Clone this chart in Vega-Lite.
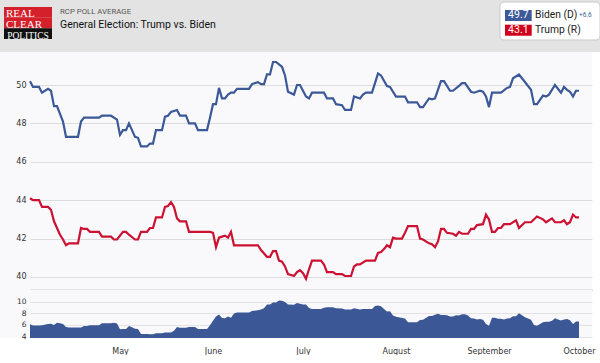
{
  "$schema": "https://vega.github.io/schema/vega-lite/v6.json",
  "background": "white",
  "padding": 0,
  "spacing": 0,
  "config": {"view": {"stroke": null}, "concat": {"spacing": 0}, "axis": {"labelFont": "DejaVu Sans", "gridWidth": 1}},
  "datasets": {
    "polls": [
      {"date":"2020-04-01","candidate":"Biden","pct":50.2},{"date":"2020-04-02","candidate":"Biden","pct":49.9},{"date":"2020-04-04","candidate":"Biden","pct":49.9},{"date":"2020-04-05","candidate":"Biden","pct":49.6},{"date":"2020-04-07","candidate":"Biden","pct":49.8},{"date":"2020-04-08","candidate":"Biden","pct":49.7},{"date":"2020-04-09","candidate":"Biden","pct":48.9},{"date":"2020-04-10","candidate":"Biden","pct":48.9},{"date":"2020-04-12","candidate":"Biden","pct":48.1},{"date":"2020-04-13","candidate":"Biden","pct":47.3},{"date":"2020-04-17","candidate":"Biden","pct":47.3},{"date":"2020-04-18","candidate":"Biden","pct":48.1},{"date":"2020-04-19","candidate":"Biden","pct":48.3},{"date":"2020-04-24","candidate":"Biden","pct":48.3},{"date":"2020-04-25","candidate":"Biden","pct":48.4},{"date":"2020-04-28","candidate":"Biden","pct":48.4},{"date":"2020-04-30","candidate":"Biden","pct":48.2},
      {"date":"2020-05-01","candidate":"Biden","pct":47.4},{"date":"2020-05-02","candidate":"Biden","pct":47.65},{"date":"2020-05-03","candidate":"Biden","pct":47.65},{"date":"2020-05-04","candidate":"Biden","pct":48.0},{"date":"2020-05-06","candidate":"Biden","pct":47.3},{"date":"2020-05-07","candidate":"Biden","pct":47.25},{"date":"2020-05-08","candidate":"Biden","pct":46.8},{"date":"2020-05-10","candidate":"Biden","pct":46.8},{"date":"2020-05-11","candidate":"Biden","pct":46.95},{"date":"2020-05-12","candidate":"Biden","pct":46.95},{"date":"2020-05-13","candidate":"Biden","pct":47.65},{"date":"2020-05-15","candidate":"Biden","pct":47.65},{"date":"2020-05-16","candidate":"Biden","pct":48.35},{"date":"2020-05-17","candidate":"Biden","pct":48.4},{"date":"2020-05-18","candidate":"Biden","pct":48.6},{"date":"2020-05-20","candidate":"Biden","pct":48.7},{"date":"2020-05-21","candidate":"Biden","pct":48.4},{"date":"2020-05-23","candidate":"Biden","pct":48.4},{"date":"2020-05-24","candidate":"Biden","pct":48.0},{"date":"2020-05-26","candidate":"Biden","pct":48.0},{"date":"2020-05-27","candidate":"Biden","pct":47.65},{"date":"2020-05-30","candidate":"Biden","pct":47.65},{"date":"2020-05-31","candidate":"Biden","pct":48.3},
      {"date":"2020-06-01","candidate":"Biden","pct":49.0},{"date":"2020-06-02","candidate":"Biden","pct":49.0},{"date":"2020-06-03","candidate":"Biden","pct":49.85},{"date":"2020-06-04","candidate":"Biden","pct":49.3},{"date":"2020-06-05","candidate":"Biden","pct":49.3},{"date":"2020-06-06","candidate":"Biden","pct":49.5},{"date":"2020-06-07","candidate":"Biden","pct":49.6},{"date":"2020-06-08","candidate":"Biden","pct":49.6},{"date":"2020-06-09","candidate":"Biden","pct":49.8},{"date":"2020-06-13","candidate":"Biden","pct":49.8},{"date":"2020-06-14","candidate":"Biden","pct":50.05},{"date":"2020-06-16","candidate":"Biden","pct":50.15},{"date":"2020-06-17","candidate":"Biden","pct":50.05},{"date":"2020-06-18","candidate":"Biden","pct":50.05},{"date":"2020-06-19","candidate":"Biden","pct":50.55},{"date":"2020-06-20","candidate":"Biden","pct":50.55},{"date":"2020-06-21","candidate":"Biden","pct":51.2},{"date":"2020-06-22","candidate":"Biden","pct":51.2},{"date":"2020-06-24","candidate":"Biden","pct":50.95},{"date":"2020-06-25","candidate":"Biden","pct":50.5},{"date":"2020-06-26","candidate":"Biden","pct":49.65},{"date":"2020-06-28","candidate":"Biden","pct":49.5},{"date":"2020-06-29","candidate":"Biden","pct":50.0},{"date":"2020-06-30","candidate":"Biden","pct":50.0},
      {"date":"2020-07-02","candidate":"Biden","pct":49.4},{"date":"2020-07-03","candidate":"Biden","pct":49.3},{"date":"2020-07-04","candidate":"Biden","pct":49.6},{"date":"2020-07-08","candidate":"Biden","pct":49.6},{"date":"2020-07-09","candidate":"Biden","pct":49.3},{"date":"2020-07-11","candidate":"Biden","pct":49.3},{"date":"2020-07-12","candidate":"Biden","pct":49.0},{"date":"2020-07-14","candidate":"Biden","pct":48.95},{"date":"2020-07-15","candidate":"Biden","pct":48.7},{"date":"2020-07-17","candidate":"Biden","pct":48.7},{"date":"2020-07-18","candidate":"Biden","pct":49.4},{"date":"2020-07-20","candidate":"Biden","pct":49.3},{"date":"2020-07-21","candidate":"Biden","pct":49.5},{"date":"2020-07-22","candidate":"Biden","pct":49.6},{"date":"2020-07-24","candidate":"Biden","pct":49.6},{"date":"2020-07-25","candidate":"Biden","pct":50.1},{"date":"2020-07-26","candidate":"Biden","pct":50.6},{"date":"2020-07-27","candidate":"Biden","pct":50.5},{"date":"2020-07-29","candidate":"Biden","pct":49.95},{"date":"2020-07-30","candidate":"Biden","pct":49.9},
      {"date":"2020-08-01","candidate":"Biden","pct":49.4},{"date":"2020-08-04","candidate":"Biden","pct":49.4},{"date":"2020-08-05","candidate":"Biden","pct":49.1},{"date":"2020-08-08","candidate":"Biden","pct":49.1},{"date":"2020-08-09","candidate":"Biden","pct":48.85},{"date":"2020-08-10","candidate":"Biden","pct":48.85},{"date":"2020-08-12","candidate":"Biden","pct":49.3},{"date":"2020-08-13","candidate":"Biden","pct":49.25},{"date":"2020-08-14","candidate":"Biden","pct":49.3},{"date":"2020-08-16","candidate":"Biden","pct":50.2},{"date":"2020-08-17","candidate":"Biden","pct":50.2},{"date":"2020-08-19","candidate":"Biden","pct":49.7},{"date":"2020-08-20","candidate":"Biden","pct":49.7},{"date":"2020-08-22","candidate":"Biden","pct":49.95},{"date":"2020-08-23","candidate":"Biden","pct":50.1},{"date":"2020-08-24","candidate":"Biden","pct":50.1},{"date":"2020-08-26","candidate":"Biden","pct":49.65},{"date":"2020-08-27","candidate":"Biden","pct":49.6},{"date":"2020-08-29","candidate":"Biden","pct":49.7},{"date":"2020-08-30","candidate":"Biden","pct":49.65},{"date":"2020-08-31","candidate":"Biden","pct":49.4},
      {"date":"2020-09-01","candidate":"Biden","pct":48.85},{"date":"2020-09-02","candidate":"Biden","pct":49.6},{"date":"2020-09-05","candidate":"Biden","pct":49.6},{"date":"2020-09-07","candidate":"Biden","pct":49.85},{"date":"2020-09-08","candidate":"Biden","pct":49.9},{"date":"2020-09-09","candidate":"Biden","pct":50.35},{"date":"2020-09-11","candidate":"Biden","pct":50.55},{"date":"2020-09-12","candidate":"Biden","pct":50.35},{"date":"2020-09-15","candidate":"Biden","pct":49.75},{"date":"2020-09-16","candidate":"Biden","pct":49.0},{"date":"2020-09-17","candidate":"Biden","pct":49.0},{"date":"2020-09-19","candidate":"Biden","pct":49.45},{"date":"2020-09-20","candidate":"Biden","pct":49.4},{"date":"2020-09-21","candidate":"Biden","pct":49.5},{"date":"2020-09-23","candidate":"Biden","pct":50.0},{"date":"2020-09-25","candidate":"Biden","pct":49.6},{"date":"2020-09-26","candidate":"Biden","pct":49.9},{"date":"2020-09-27","candidate":"Biden","pct":49.75},{"date":"2020-09-28","candidate":"Biden","pct":49.65},{"date":"2020-09-29","candidate":"Biden","pct":49.4},{"date":"2020-09-30","candidate":"Biden","pct":49.7},{"date":"2020-10-01","candidate":"Biden","pct":49.7},
      {"date":"2020-04-01","candidate":"Trump","pct":44.1},{"date":"2020-04-02","candidate":"Trump","pct":44.0},{"date":"2020-04-04","candidate":"Trump","pct":44.0},{"date":"2020-04-05","candidate":"Trump","pct":43.65},{"date":"2020-04-07","candidate":"Trump","pct":43.65},{"date":"2020-04-08","candidate":"Trump","pct":43.5},{"date":"2020-04-09","candidate":"Trump","pct":42.9},{"date":"2020-04-11","candidate":"Trump","pct":42.2},{"date":"2020-04-12","candidate":"Trump","pct":41.95},{"date":"2020-04-13","candidate":"Trump","pct":41.65},{"date":"2020-04-14","candidate":"Trump","pct":41.75},{"date":"2020-04-17","candidate":"Trump","pct":41.75},{"date":"2020-04-18","candidate":"Trump","pct":42.55},{"date":"2020-04-19","candidate":"Trump","pct":42.5},{"date":"2020-04-20","candidate":"Trump","pct":42.5},{"date":"2020-04-21","candidate":"Trump","pct":42.35},{"date":"2020-04-24","candidate":"Trump","pct":42.35},{"date":"2020-04-25","candidate":"Trump","pct":42.1},{"date":"2020-04-28","candidate":"Trump","pct":42.1},{"date":"2020-04-29","candidate":"Trump","pct":41.95},{"date":"2020-04-30","candidate":"Trump","pct":41.95},
      {"date":"2020-05-02","candidate":"Trump","pct":42.35},{"date":"2020-05-03","candidate":"Trump","pct":42.35},{"date":"2020-05-04","candidate":"Trump","pct":42.2},{"date":"2020-05-06","candidate":"Trump","pct":41.95},{"date":"2020-05-07","candidate":"Trump","pct":41.95},{"date":"2020-05-08","candidate":"Trump","pct":42.35},{"date":"2020-05-10","candidate":"Trump","pct":42.35},{"date":"2020-05-11","candidate":"Trump","pct":42.55},{"date":"2020-05-12","candidate":"Trump","pct":42.55},{"date":"2020-05-13","candidate":"Trump","pct":43.1},{"date":"2020-05-15","candidate":"Trump","pct":43.1},{"date":"2020-05-16","candidate":"Trump","pct":43.65},{"date":"2020-05-17","candidate":"Trump","pct":43.7},{"date":"2020-05-18","candidate":"Trump","pct":43.9},{"date":"2020-05-19","candidate":"Trump","pct":43.65},{"date":"2020-05-20","candidate":"Trump","pct":43.05},{"date":"2020-05-21","candidate":"Trump","pct":42.9},{"date":"2020-05-23","candidate":"Trump","pct":42.9},{"date":"2020-05-24","candidate":"Trump","pct":42.35},{"date":"2020-05-31","candidate":"Trump","pct":42.35},
      {"date":"2020-06-01","candidate":"Trump","pct":42.3},{"date":"2020-06-02","candidate":"Trump","pct":41.55},{"date":"2020-06-03","candidate":"Trump","pct":42.05},{"date":"2020-06-04","candidate":"Trump","pct":42.1},{"date":"2020-06-05","candidate":"Trump","pct":42.15},{"date":"2020-06-06","candidate":"Trump","pct":42.05},{"date":"2020-06-07","candidate":"Trump","pct":42.35},{"date":"2020-06-08","candidate":"Trump","pct":41.65},{"date":"2020-06-16","candidate":"Trump","pct":41.65},{"date":"2020-06-17","candidate":"Trump","pct":41.4},{"date":"2020-06-19","candidate":"Trump","pct":41.05},{"date":"2020-06-20","candidate":"Trump","pct":41.05},{"date":"2020-06-21","candidate":"Trump","pct":41.35},{"date":"2020-06-22","candidate":"Trump","pct":41.35},{"date":"2020-06-23","candidate":"Trump","pct":40.85},{"date":"2020-06-24","candidate":"Trump","pct":40.8},{"date":"2020-06-25","candidate":"Trump","pct":40.55},{"date":"2020-06-26","candidate":"Trump","pct":40.15},{"date":"2020-06-27","candidate":"Trump","pct":40.1},{"date":"2020-06-28","candidate":"Trump","pct":40.05},{"date":"2020-06-29","candidate":"Trump","pct":40.25},{"date":"2020-06-30","candidate":"Trump","pct":40.35},
      {"date":"2020-07-01","candidate":"Trump","pct":40.2},{"date":"2020-07-02","candidate":"Trump","pct":39.9},{"date":"2020-07-03","candidate":"Trump","pct":40.4},{"date":"2020-07-04","candidate":"Trump","pct":40.85},{"date":"2020-07-07","candidate":"Trump","pct":40.85},{"date":"2020-07-08","candidate":"Trump","pct":40.65},{"date":"2020-07-09","candidate":"Trump","pct":40.25},{"date":"2020-07-11","candidate":"Trump","pct":40.25},{"date":"2020-07-12","candidate":"Trump","pct":40.15},{"date":"2020-07-14","candidate":"Trump","pct":40.15},{"date":"2020-07-15","candidate":"Trump","pct":40.05},{"date":"2020-07-17","candidate":"Trump","pct":40.05},{"date":"2020-07-18","candidate":"Trump","pct":40.55},{"date":"2020-07-19","candidate":"Trump","pct":40.65},{"date":"2020-07-20","candidate":"Trump","pct":40.65},{"date":"2020-07-22","candidate":"Trump","pct":40.85},{"date":"2020-07-25","candidate":"Trump","pct":40.85},{"date":"2020-07-26","candidate":"Trump","pct":41.25},{"date":"2020-07-27","candidate":"Trump","pct":41.3},{"date":"2020-07-28","candidate":"Trump","pct":41.45},{"date":"2020-07-29","candidate":"Trump","pct":41.65},{"date":"2020-07-30","candidate":"Trump","pct":41.55},{"date":"2020-07-31","candidate":"Trump","pct":42.05},
      {"date":"2020-08-01","candidate":"Trump","pct":42.0},{"date":"2020-08-03","candidate":"Trump","pct":42.0},{"date":"2020-08-04","candidate":"Trump","pct":42.3},{"date":"2020-08-05","candidate":"Trump","pct":42.65},{"date":"2020-08-08","candidate":"Trump","pct":42.65},{"date":"2020-08-09","candidate":"Trump","pct":42.0},{"date":"2020-08-10","candidate":"Trump","pct":41.95},{"date":"2020-08-12","candidate":"Trump","pct":41.75},{"date":"2020-08-13","candidate":"Trump","pct":41.7},{"date":"2020-08-14","candidate":"Trump","pct":41.55},{"date":"2020-08-15","candidate":"Trump","pct":41.85},{"date":"2020-08-16","candidate":"Trump","pct":42.5},{"date":"2020-08-17","candidate":"Trump","pct":42.5},{"date":"2020-08-18","candidate":"Trump","pct":42.3},{"date":"2020-08-20","candidate":"Trump","pct":42.25},{"date":"2020-08-21","candidate":"Trump","pct":42.15},{"date":"2020-08-22","candidate":"Trump","pct":42.35},{"date":"2020-08-23","candidate":"Trump","pct":42.25},{"date":"2020-08-25","candidate":"Trump","pct":42.25},{"date":"2020-08-26","candidate":"Trump","pct":42.5},{"date":"2020-08-27","candidate":"Trump","pct":42.5},{"date":"2020-08-28","candidate":"Trump","pct":42.7},{"date":"2020-08-30","candidate":"Trump","pct":42.75},{"date":"2020-08-31","candidate":"Trump","pct":43.25},
      {"date":"2020-09-01","candidate":"Trump","pct":43.0},{"date":"2020-09-02","candidate":"Trump","pct":42.35},{"date":"2020-09-03","candidate":"Trump","pct":42.35},{"date":"2020-09-04","candidate":"Trump","pct":42.55},{"date":"2020-09-05","candidate":"Trump","pct":42.55},{"date":"2020-09-06","candidate":"Trump","pct":42.75},{"date":"2020-09-08","candidate":"Trump","pct":42.75},{"date":"2020-09-10","candidate":"Trump","pct":42.95},{"date":"2020-09-11","candidate":"Trump","pct":42.55},{"date":"2020-09-13","candidate":"Trump","pct":42.85},{"date":"2020-09-15","candidate":"Trump","pct":42.85},{"date":"2020-09-17","candidate":"Trump","pct":43.15},{"date":"2020-09-19","candidate":"Trump","pct":43.0},{"date":"2020-09-20","candidate":"Trump","pct":42.85},{"date":"2020-09-22","candidate":"Trump","pct":43.05},{"date":"2020-09-23","candidate":"Trump","pct":42.85},{"date":"2020-09-25","candidate":"Trump","pct":42.85},{"date":"2020-09-26","candidate":"Trump","pct":42.95},{"date":"2020-09-27","candidate":"Trump","pct":42.75},{"date":"2020-09-28","candidate":"Trump","pct":42.85},{"date":"2020-09-29","candidate":"Trump","pct":43.25},{"date":"2020-09-30","candidate":"Trump","pct":43.1},{"date":"2020-10-01","candidate":"Trump","pct":43.1}
    ],
    "spread": [
      {"date":"2020-04-01","spread":6.1},{"date":"2020-04-02","spread":5.9},{"date":"2020-04-04","spread":5.9},{"date":"2020-04-05","spread":5.95},{"date":"2020-04-07","spread":6.15},{"date":"2020-04-08","spread":6.2},{"date":"2020-04-09","spread":6.0},{"date":"2020-04-10","spread":6.35},{"date":"2020-04-11","spread":6.3},{"date":"2020-04-12","spread":6.15},{"date":"2020-04-13","spread":5.65},{"date":"2020-04-14","spread":5.55},{"date":"2020-04-17","spread":5.55},{"date":"2020-04-18","spread":5.55},{"date":"2020-04-19","spread":5.8},{"date":"2020-04-20","spread":5.8},{"date":"2020-04-21","spread":5.95},{"date":"2020-04-24","spread":5.95},{"date":"2020-04-25","spread":6.3},{"date":"2020-04-28","spread":6.3},{"date":"2020-04-29","spread":6.35},{"date":"2020-04-30","spread":6.25},
      {"date":"2020-05-01","spread":5.25},{"date":"2020-05-02","spread":5.3},{"date":"2020-05-03","spread":5.3},{"date":"2020-05-04","spread":5.8},{"date":"2020-05-05","spread":5.6},{"date":"2020-05-06","spread":5.35},{"date":"2020-05-07","spread":5.3},{"date":"2020-05-08","spread":4.45},{"date":"2020-05-10","spread":4.45},{"date":"2020-05-11","spread":4.4},{"date":"2020-05-12","spread":4.4},{"date":"2020-05-13","spread":4.55},{"date":"2020-05-15","spread":4.55},{"date":"2020-05-16","spread":4.7},{"date":"2020-05-18","spread":4.7},{"date":"2020-05-19","spread":5.0},{"date":"2020-05-20","spread":5.65},{"date":"2020-05-21","spread":5.5},{"date":"2020-05-23","spread":5.5},{"date":"2020-05-24","spread":5.65},{"date":"2020-05-26","spread":5.65},{"date":"2020-05-27","spread":5.3},{"date":"2020-05-30","spread":5.3},{"date":"2020-05-31","spread":5.95},
      {"date":"2020-06-01","spread":6.7},{"date":"2020-06-02","spread":7.45},{"date":"2020-06-03","spread":7.8},{"date":"2020-06-04","spread":7.2},{"date":"2020-06-05","spread":7.15},{"date":"2020-06-06","spread":7.45},{"date":"2020-06-07","spread":7.25},{"date":"2020-06-08","spread":7.95},{"date":"2020-06-09","spread":8.15},{"date":"2020-06-13","spread":8.15},{"date":"2020-06-14","spread":8.4},{"date":"2020-06-16","spread":8.5},{"date":"2020-06-17","spread":8.65},{"date":"2020-06-18","spread":8.85},{"date":"2020-06-19","spread":9.5},{"date":"2020-06-20","spread":9.5},{"date":"2020-06-21","spread":9.85},{"date":"2020-06-22","spread":9.85},{"date":"2020-06-23","spread":10.2},{"date":"2020-06-24","spread":10.15},{"date":"2020-06-25","spread":9.95},{"date":"2020-06-26","spread":9.5},{"date":"2020-06-28","spread":9.45},{"date":"2020-06-29","spread":9.75},{"date":"2020-06-30","spread":9.65},
      {"date":"2020-07-01","spread":9.5},{"date":"2020-07-02","spread":9.5},{"date":"2020-07-03","spread":8.9},{"date":"2020-07-04","spread":8.75},{"date":"2020-07-07","spread":8.75},{"date":"2020-07-08","spread":8.95},{"date":"2020-07-09","spread":9.05},{"date":"2020-07-11","spread":9.05},{"date":"2020-07-12","spread":8.85},{"date":"2020-07-14","spread":8.8},{"date":"2020-07-15","spread":8.65},{"date":"2020-07-17","spread":8.65},{"date":"2020-07-18","spread":8.85},{"date":"2020-07-20","spread":8.65},{"date":"2020-07-21","spread":8.75},{"date":"2020-07-24","spread":8.75},{"date":"2020-07-25","spread":9.25},{"date":"2020-07-26","spread":9.35},{"date":"2020-07-27","spread":9.2},{"date":"2020-07-28","spread":8.75},{"date":"2020-07-29","spread":8.3},{"date":"2020-07-30","spread":8.35},{"date":"2020-07-31","spread":7.6},
      {"date":"2020-08-01","spread":7.4},{"date":"2020-08-04","spread":7.1},{"date":"2020-08-05","spread":6.45},{"date":"2020-08-08","spread":6.45},{"date":"2020-08-09","spread":6.85},{"date":"2020-08-10","spread":6.9},{"date":"2020-08-12","spread":7.55},{"date":"2020-08-13","spread":7.55},{"date":"2020-08-14","spread":7.75},{"date":"2020-08-15","spread":7.9},{"date":"2020-08-16","spread":7.7},{"date":"2020-08-17","spread":7.7},{"date":"2020-08-18","spread":7.65},{"date":"2020-08-19","spread":7.45},{"date":"2020-08-20","spread":7.45},{"date":"2020-08-21","spread":7.65},{"date":"2020-08-22","spread":7.6},{"date":"2020-08-23","spread":7.85},{"date":"2020-08-24","spread":7.85},{"date":"2020-08-25","spread":7.6},{"date":"2020-08-26","spread":7.15},{"date":"2020-08-27","spread":7.1},{"date":"2020-08-28","spread":6.95},{"date":"2020-08-29","spread":7.0},{"date":"2020-08-30","spread":6.9},{"date":"2020-08-31","spread":6.15},
      {"date":"2020-09-01","spread":5.85},{"date":"2020-09-02","spread":7.25},{"date":"2020-09-03","spread":7.25},{"date":"2020-09-04","spread":7.05},{"date":"2020-09-05","spread":7.05},{"date":"2020-09-06","spread":6.95},{"date":"2020-09-07","spread":7.1},{"date":"2020-09-08","spread":7.15},{"date":"2020-09-09","spread":7.5},{"date":"2020-09-10","spread":7.5},{"date":"2020-09-11","spread":8.0},{"date":"2020-09-12","spread":7.65},{"date":"2020-09-13","spread":7.3},{"date":"2020-09-15","spread":6.9},{"date":"2020-09-16","spread":6.0},{"date":"2020-09-17","spread":5.85},{"date":"2020-09-18","spread":6.15},{"date":"2020-09-19","spread":6.45},{"date":"2020-09-20","spread":6.55},{"date":"2020-09-21","spread":6.55},{"date":"2020-09-22","spread":6.7},{"date":"2020-09-23","spread":7.15},{"date":"2020-09-24","spread":6.95},{"date":"2020-09-25","spread":6.75},{"date":"2020-09-26","spread":6.95},{"date":"2020-09-27","spread":7.0},{"date":"2020-09-28","spread":6.8},{"date":"2020-09-29","spread":6.15},{"date":"2020-09-30","spread":6.6},{"date":"2020-10-01","spread":6.6}
    ]
  },
  "vconcat": [
    {
      "spacing": 0,
      "hconcat": [
        {
          "width": 56, "height": 52,
          "view": {"fill": "#e3e3e3", "stroke": null},
          "data": {"values": [{"word": "REAL", "part": "red"}, {"word": "CLEAR", "part": "red"}, {"word": "POLITICS", "part": "black"}]},
          "encoding": {
            "y": {"field": "word", "type": "nominal", "sort": null, "scale": {"type": "band", "domain": ["REAL", "CLEAR", "POLITICS"], "paddingInner": 0, "paddingOuter": 0.93, "align": 0.35}, "axis": null}
          },
          "layer": [
            {"transform": [{"filter": "datum.part == 'red'"}], "mark": {"type": "rect", "fill": "#d3202a"}, "encoding": {"x": {"datum": "logo", "type": "nominal", "scale": {"type": "band", "paddingOuter": 0.0833, "paddingInner": 0}, "axis": null}}},
            {"transform": [{"filter": "datum.part == 'black'"}], "mark": {"type": "rect", "fill": "#111111"}, "encoding": {"x": {"datum": "logo", "type": "nominal"}}},
            {"transform": [{"filter": "datum.part == 'red'"}], "mark": {"type": "text", "font": "Liberation Serif", "fontSize": 11, "fill": "white", "align": "left", "dx": 2, "dy": 2}, "encoding": {"x": {"datum": "logo", "type": "nominal", "bandPosition": 0}, "text": {"field": "word"}}},
            {"transform": [{"filter": "datum.part == 'black'"}], "mark": {"type": "text", "font": "Liberation Serif", "fontSize": 9.5, "fill": "white", "align": "center", "dy": 2.3}, "encoding": {"x": {"datum": "logo", "type": "nominal"}, "text": {"field": "word"}}}
          ]
        },
        {
          "width": 441, "height": 52,
          "view": {"fill": "#e3e3e3", "stroke": null},
          "data": {"values": [{"line": "RCP POLL AVERAGE", "role": "kicker"}, {"line": "General Election: Trump vs. Biden", "role": "headline"}]},
          "encoding": {
            "y": {"field": "role", "type": "nominal", "sort": null, "scale": {"type": "band", "domain": ["kicker", "headline"], "paddingInner": 0, "paddingOuter": 1.047, "align": 0.224}, "axis": null},
            "text": {"field": "line"}
          },
          "layer": [
            {"transform": [{"filter": "datum.role == 'kicker'"}], "mark": {"type": "text", "align": "left", "dx": 4, "font": "Roboto", "fontSize": 7.8, "fill": "#555555"},
             "encoding": {"x": {"datum": "title", "type": "nominal", "bandPosition": 0, "scale": {"type": "band", "paddingOuter": 0, "paddingInner": 0}, "axis": null}}},
            {"transform": [{"filter": "datum.role == 'headline'"}], "mark": {"type": "text", "align": "left", "dx": 4, "font": "Roboto", "fontSize": 10.5, "fill": "#111111"},
             "encoding": {"x": {"datum": "title", "type": "nominal", "bandPosition": 0}}}
          ]
        },
        {
          "width": 103, "height": 52,
          "view": {"fill": "#e3e3e3", "stroke": null},
          "resolve": {"scale": {"x": "independent", "y": "independent"}},
          "layer": [
            {
              "data": {"values": [{"box": "legend"}]},
              "mark": {"type": "rect", "fill": "white", "stroke": "#c9c9c9", "strokeWidth": 1, "cornerRadius": 4},
              "encoding": {
                "x": {"field": "box", "type": "nominal", "scale": {"type": "band", "paddingOuter": 0.015, "paddingInner": 0, "align": 1}, "axis": null},
                "y": {"field": "box", "type": "nominal", "scale": {"type": "band", "paddingOuter": 0.1842, "paddingInner": 0, "align": 0.1429}, "axis": null}
              }
            },
            {
              "data": {"values": [{"name": "Biden (D)", "avg": "49.7", "spread": "+6.6", "party": "D"}, {"name": "Trump (R)", "avg": "43.1", "spread": "", "party": "R"}]},
              "encoding": {
                "y": {"field": "name", "type": "nominal", "sort": null, "scale": {"type": "band", "domain": ["Biden (D)", "Trump (R)"], "paddingInner": 0.25, "paddingOuter": 0.894, "align": 0.38}, "axis": null}
              },
              "layer": [
                {"transform": [{"filter": "datum.party == 'D'"}], "mark": {"type": "rect", "fill": "#3c5a99"}, "encoding": {"x": {"datum": "value", "type": "nominal", "scale": {"type": "band", "domain": ["value", "name"], "paddingInner": 0.11, "paddingOuter": 0.7717, "align": 0.1728}, "axis": null}}},
                {"transform": [{"filter": "datum.party == 'R'"}], "mark": {"type": "rect", "fill": "#d0021b"}, "encoding": {"x": {"datum": "value", "type": "nominal"}}},
                {"mark": {"type": "text", "fill": "white", "font": "Roboto", "fontSize": 10.5}, "encoding": {"x": {"datum": "value", "type": "nominal"}, "text": {"field": "avg"}}},
                {"mark": {"type": "text", "align": "left", "font": "Roboto", "fontSize": 10.3, "fill": "#222222"}, "encoding": {"x": {"datum": "name", "type": "nominal", "bandPosition": 0}, "text": {"field": "name"}}},
                {"mark": {"type": "text", "align": "left", "dx": 44, "font": "Roboto", "fontSize": 6.5, "fill": "#3c5a99"}, "encoding": {"x": {"datum": "name", "type": "nominal", "bandPosition": 0}, "text": {"field": "spread"}}}
              ]
            }
          ]
        }
      ]
    },
    {
      "width": 592, "height": 238,
      "view": {"fill": "#f9f9fb", "stroke": null},
      "data": {"name": "polls"},
      "mark": {"type": "line", "strokeWidth": 2.2, "clip": true},
      "encoding": {
        "x": {"field": "date", "type": "temporal",
              "scale": {"type": "utc", "domain": [{"year": 2020, "month": 4, "date": 1, "utc": true}, {"year": 2020, "month": 10, "date": 5, "hours": 8, "utc": true}], "range": [30, 592]},
              "axis": {"orient": "bottom", "labels": false, "ticks": false, "grid": false, "domain": true, "domainColor": "#a9a9a9", "domainWidth": 1.5, "title": null}},
        "y": {"field": "pct", "type": "quantitative", "scale": {"domain": [39.32, 51.72]},
              "axis": {"values": [40, 42, 44, 46, 48, 50], "offset": -30, "labelPadding": 4, "domain": false, "ticks": false, "gridColor": "#dcdcdc", "labelFontSize": 8, "labelColor": "#333333", "title": null}},
        "color": {"field": "candidate", "type": "nominal", "scale": {"domain": ["Biden", "Trump"], "range": ["#3b5998", "#cc1133"]}, "legend": null}
      }
    },
    {
      "width": 592, "height": 48,
      "view": {"fill": "#f9f9fb", "stroke": null},
      "data": {"name": "spread"},
      "mark": {"type": "area", "color": "#3b5796", "clip": true},
      "encoding": {
        "x": {"field": "date", "type": "temporal",
              "scale": {"type": "utc", "domain": [{"year": 2020, "month": 4, "date": 1, "utc": true}, {"year": 2020, "month": 10, "date": 5, "hours": 8, "utc": true}], "range": [30, 592]},
              "axis": {"values": [{"year": 2020, "month": 5, "date": 1, "utc": true}, {"year": 2020, "month": 6, "date": 1, "utc": true}, {"year": 2020, "month": 7, "date": 1, "utc": true}, {"year": 2020, "month": 8, "date": 1, "utc": true}, {"year": 2020, "month": 9, "date": 1, "utc": true}, {"year": 2020, "month": 10, "date": 1, "utc": true}],
                       "format": "%B", "labelFontSize": 8, "labelColor": "#333333", "labelPadding": 9, "ticks": false, "domain": false, "grid": false, "title": null, "labelOverlap": false, "labelBound": false, "labelFlush": false}},
        "y": {"field": "spread", "type": "quantitative", "scale": {"domain": [3.75, 12]},
              "axis": {"values": [4, 6, 8, 10], "offset": -30, "labelPadding": 4, "domain": false, "ticks": false, "gridColor": "#e3e3e3", "labelFontSize": 7.5, "labelColor": "#333333", "title": null}}
      }
    }
  ]
}
